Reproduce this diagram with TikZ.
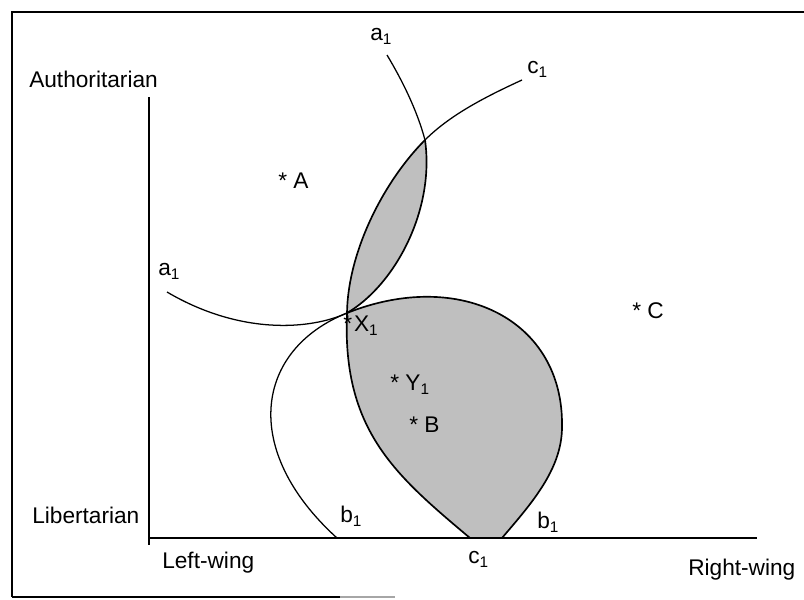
\documentclass[tikz,border=0pt]{standalone}
\usepackage{fontspec}
\setmainfont{Liberation Sans}
\newcommand\subone{\raisebox{-3pt}{\fontsize{11.5}{11.5}\selectfont 1}}
\begin{document}
\begin{tikzpicture}[x=0.75pt,y=-0.75pt,
  lbl/.style={inner sep=0pt,anchor=base west,font=\fontsize{17}{19}\selectfont},
  axis/.style={line width=1.5pt},
  curve/.style={line width=0.95pt},
  lens/.style={line width=1.25pt},
  shade/.style={fill=black!25}]
\useasboundingbox (0,0) rectangle (804,600);
% frame
\draw[line width=1.2pt] (12,597) -- (12,12) -- (804,12);
\draw[line width=1.2pt] (12,597) -- (340,597);
\draw[line width=1pt,black!35] (340,597) -- (395,597);
% key points
\coordinate (P) at (425,140);
\coordinate (X) at (347,313);
\coordinate (Q) at (470,538);
\coordinate (R) at (502,538);
\coordinate (Bl) at (337,538);
\coordinate (Br) at (562,427);
\coordinate (Ae) at (387,55);
\coordinate (Al) at (167,292);
\coordinate (Ce) at (522,80);
% shaded regions
\fill[shade] (P) .. controls (385,180) and (348,250) .. (X)
   .. controls (395,285) and (435,210) .. (P) -- cycle;
\fill[shade] (X) .. controls (342,430) and (395,475) .. (Q) -- (R)
   .. controls (530,505) and (562,470) .. (Br)
   .. controls (564,320) and (460,268) .. (X) -- cycle;
% axes
\draw[axis] (149,97) -- (149,545);
\draw[axis] (149,538) -- (757,538);
% curve a1
\draw[curve] (Ae) .. controls (402,80) and (417,110) .. (P);
\draw[lens] (P) .. controls (435,210) and (395,285) .. (X);
\draw[curve] (X) .. controls (310,330) and (240,335) .. (Al);
% curve c1
\draw[curve] (Ce) .. controls (485,97) and (450,115) .. (P);
\draw[lens] (P) .. controls (385,180) and (348,250) .. (X)
   .. controls (342,430) and (395,475) .. (Q);
% curve b1
\draw[curve] (Bl) .. controls (240,450) and (255,350) .. (X);
\draw[lens] (X) .. controls (460,268) and (564,320) .. (Br)
   .. controls (562,470) and (530,505) .. (R);
% labels
\node[lbl] (auth) at (29,87) {Authoritarian};
\node[lbl] (lib) at (32,523) {Libertarian};
\node[lbl] (lw) at (162,568) {Left-wing};
\node[lbl] (rw) at (688,575) {Right-wing};
\node[lbl] (c1b) at (468,563) {c\subone};
\node[lbl] (b1l) at (340,522) {b\subone};
\node[lbl] (b1r) at (537,528) {b\subone};
\node[lbl] (a1t) at (370,40) {a\subone};
\node[lbl] (c1t) at (527,73) {c\subone};
\node[lbl] (a1l) at (158,275) {a\subone};
\node[lbl] (pA) at (278,188) {* A};
\node[lbl] (pC) at (632,318) {* C};
\node[lbl] (pX) at (343,331) {*\hspace{1.5pt}X\subone};
\node[lbl] (pY) at (390,390) {* Y\subone};
\node[lbl] (pB) at (409,432) {* B};
\end{tikzpicture}
\end{document}
